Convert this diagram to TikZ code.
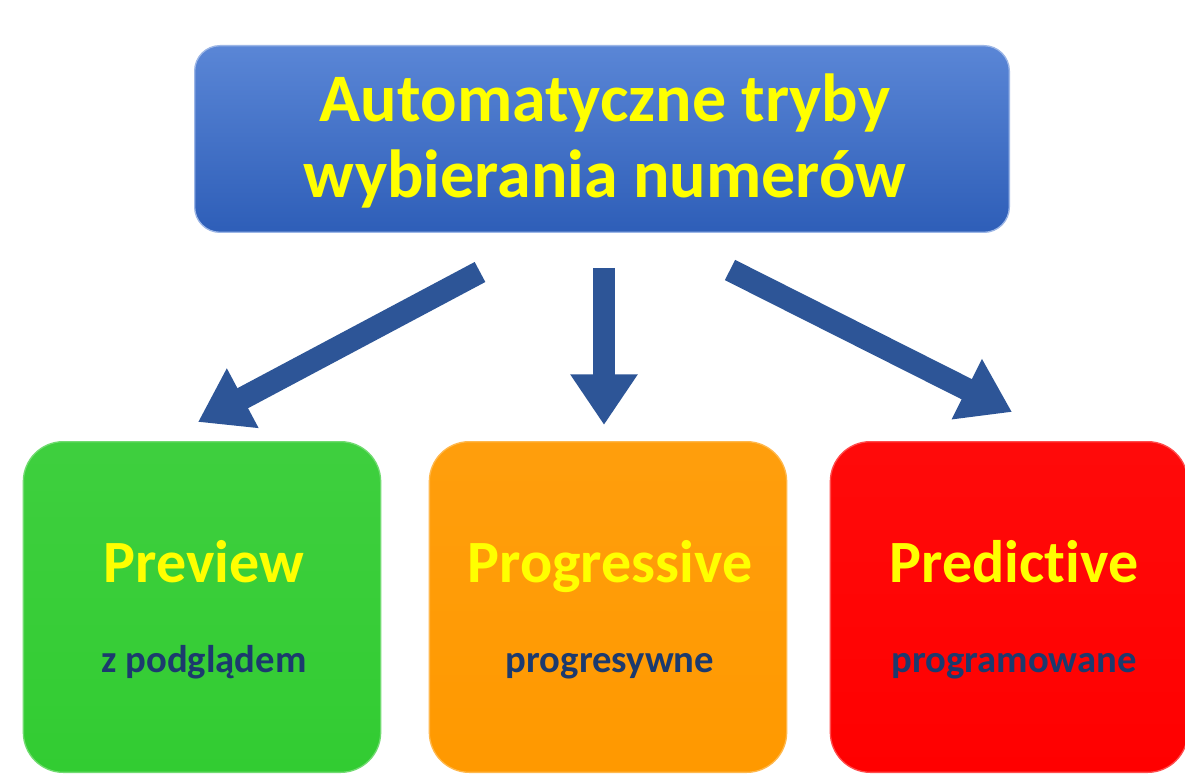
\documentclass[tikz,border=0pt]{standalone}
\usepackage{fontspec}
\setmainfont{Carlito}[Ligatures=NoCommon]
\usetikzlibrary{arrows.meta,calc}
\definecolor{topblueA}{HTML}{5A86D6}
\definecolor{topblueB}{HTML}{2E5EB8}
\definecolor{arrowblue}{HTML}{2D5597}
\definecolor{boxgreen}{HTML}{32CC32}
\definecolor{boxorange}{HTML}{FF9900}
\definecolor{boxred}{HTML}{FF0000}
\definecolor{txtyellow}{HTML}{FFFF00}
\definecolor{txtnavy}{HTML}{1C3A6E}
\tikzset{
  px/.style={x=0.75pt,y=-0.75pt},
  topbox/.style={rounded corners=19pt, top color=topblueA, bottom color=topblueB,
     draw=topblueA!60!white, line width=1pt, minimum width=611pt, minimum height=140pt, inner sep=0pt},
  modebox/.style={rounded corners=30pt, line width=1pt, minimum width=268pt, minimum height=248pt, inner sep=0pt},
  title/.style={font=\fontsize{51}{57}\selectfont\bfseries, text=txtyellow, align=center},
  modetitle/.style={font=\fontsize{45}{54}\selectfont\bfseries, text=txtyellow, anchor=base},
  modesub/.style={font=\fontsize{29}{35}\selectfont\bfseries, text=txtnavy, anchor=base},
  bigarrow/.style={draw=arrowblue, line width=17pt, -{Triangle[width=48pt,length=38pt]}},
}
\begin{document}
\begin{tikzpicture}[px]
\useasboundingbox[fill=white] (0,0) rectangle (1185,780);
\node[topbox] (top) at (602,139) {};
\node[title] (toptext) at (605,141) {Automatyczne tryby\\wybierania numerów};

\node[modebox, top color=boxgreen!94!white, bottom color=boxgreen, draw=boxgreen!70!white] (b1) at (202,607) {};
\node[modebox, top color=boxorange!95!white, bottom color=boxorange, draw=boxorange!70!white] (b2) at (608,607) {};
\node[modebox, top color=boxred!96!white, bottom color=boxred, draw=boxred!70!white] (b3) at (1009,607) {};

\node[modetitle] (t1) at (204,582) {Preview};
\node[modesub] (s1) at (204,672) {z podglądem};
\node[modetitle] (t2) at (610,582) {Progressive};
\node[modesub] (s2) at (610,672) {progresywne};
\node[modetitle] (t3) at (1014,582) {Predictive};
\node[modesub] (s3) at (1014,672) {programowane};

\coordinate (a1s) at (480,272);
\coordinate (a1e) at (198,422);
\coordinate (a2s) at (604,268);
\coordinate (a2e) at (604,425);
\coordinate (a3s) at (730,270);
\coordinate (a3e) at (1012,412);
\draw[bigarrow] (a1s) -- (a1e);
\draw[bigarrow] (a2s) -- (a2e);
\draw[bigarrow] (a3s) -- (a3e);
\end{tikzpicture}
\end{document}
